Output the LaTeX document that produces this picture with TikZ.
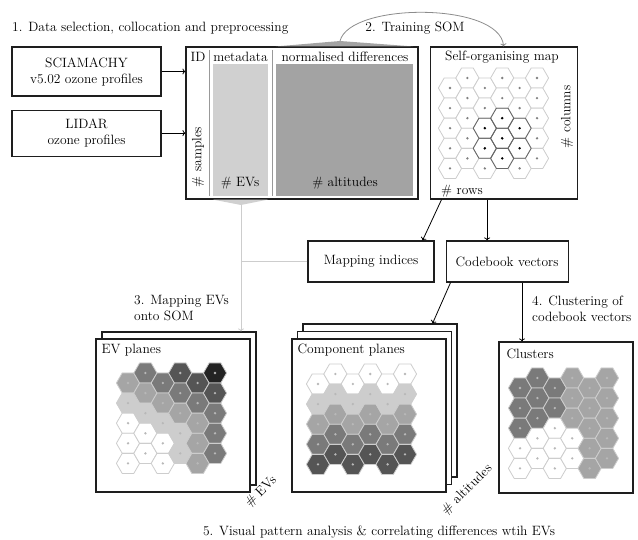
\documentclass[tikz,border=0pt]{standalone}
\usepackage{fontspec}
\usepackage{xcolor}
\usepackage{tikz}
\usetikzlibrary{positioning,arrows.meta,calc}
\definecolor{boxline}{RGB}{30,30,30}
\definecolor{hexline}{RGB}{205,205,205}
\definecolor{shade0}{RGB}{255,255,255}
\definecolor{shade1}{RGB}{205,205,205}
\definecolor{shade2}{RGB}{165,165,165}
\definecolor{shade3}{RGB}{122,122,122}
\definecolor{shade4}{RGB}{85,85,85}
\definecolor{shade5}{RGB}{35,35,35}
\definecolor{lightfill}{RGB}{208,208,208}
\definecolor{darkfill}{RGB}{163,163,163}
\definecolor{flowgray}{RGB}{205,205,205}
\definecolor{arcgray}{RGB}{140,140,140}
\tikzset{
  box/.style={draw=boxline, line width=1.1pt, align=center, inner sep=2pt},
  srcbox/.style={box, minimum width=149pt, minimum height=49pt},
  panel/.style={box, fill=white, minimum width=154pt, minimum height=153pt},
  note/.style={inner sep=0pt},
  hexcell/.style={draw=hexline, line width=0.8pt, line join=round},
  somhl/.style={draw=black!60, line width=0.8pt, line join=round},
  arrow/.style={-{To[length=3pt,width=6pt]}, line width=0.8pt, black},
  grayline/.style={line width=0.8pt, flowgray},
  grayarrow/.style={grayline, -{To[length=3pt,width=6pt]}},
  sepline/.style={line width=0.6pt, black!40}
}
\newcommand{\hexat}[1]{(#1) +(0:11.6) -- +(60:11.6) -- +(120:11.6) -- +(180:11.6)
  -- +(240:11.6) -- +(300:11.6) -- cycle}
\newcommand{\hexmap}[5]{%
  \foreach \cl/\hexcol in {#4} {
    \foreach \sh [count=\rw from 0] in \hexcol {
      \coordinate (#1-\cl-\rw) at ({#2+17.4*\cl},{#3+20.1*\rw+10*mod(\cl+1,2)});
      \filldraw[hexcell, fill=shade\sh] \hexat{#1-\cl-\rw};
      \fill[#5] (#1-\cl-\rw) circle (1.3);
    }
  }%
}

\begin{document}
\begin{tikzpicture}[x=1pt, y=-1pt, font=\fontsize{13.5}{16}\selectfont]
  \useasboundingbox (0,0) rectangle (638,540);

  \node[note, anchor=west] (step1) at (12,28) {1. Data selection, collocation and preprocessing};
  \node[srcbox] (sciam) at (86.5,71.5) {SCIAMACHY\\v5.02 ozone profiles};
  \node[srcbox, minimum height=46pt, below=13pt of sciam] (lidar) {LIDAR\\ozone profiles};

  \node[fill=lightfill, minimum width=55pt, minimum height=132pt] (meta) at (240.5,130) {};
  \node[fill=darkfill, minimum width=137pt, minimum height=132pt] (diffs) at (344.5,130) {};
  \node[box, minimum width=232pt, minimum height=152pt] (data) at (302,123) {};
  \draw[sepline] (209,50) -- (209,196);
  \draw[sepline] (272.5,50) -- (272.5,196);
  \node[note] (idlbl) at (198,57) {ID};
  \node[note] (metalbl) at (240.5,57) {metadata};
  \node[note] (difflbl) at (345,57) {normalised differences};
  \node[note] (evslbl) at (240,183) {\# EVs};
  \node[note] (altlbl) at (345,183) {\# altitudes};
  \node[note, rotate=90] (samples) at (198,157) {\# samples};
  \coordinate (evtip) at (241,205);
  \coordinate (traintip) at (340,41);
  \fill[lightfill] (meta.west |- data.south) -- (evtip) -- (meta.east |- data.south) -- cycle;
  \fill[darkfill] (diffs.west |- data.north) -- (traintip) -- (diffs.east |- data.north) -- cycle;

  \draw[arrow] (sciam.east) -- (sciam.east -| data.west);
  \draw[arrow] (lidar.east) -- (lidar.east -| data.west);

  \node[box, minimum width=147pt, minimum height=152pt, right=11pt of data] (som) {};
  \node[note] (somlbl) at (502,57) {Self-organising map};
  \hexmap{som}{450}{78}{0/{0,0,0,0,0},1/{0,0,0,0,0},2/{0,0,0,0,0},3/{0,0,0,0,0},4/{0,0,0,0,0},5/{0,0,0,0,0}}{black!50}
  \foreach \cl/\rw in {2/2,2/3,3/2,3/3,3/4,4/2,4/3} {
    \draw[somhl] \hexat{som-\cl-\rw};
    \fill[black] (som-\cl-\rw) circle (1.3);
  }
  \node[note, rotate=90] (cols) at (567,117) {\# columns};
  \node[note] (rows) at (462,191) {\# rows};

  \draw[grayarrow, arcgray] (traintip) .. controls (350,2) and (500,2) .. (som.north);
  \node[note] (step2) at (415,28) {2. Training SOM};

  \node[box, minimum width=126pt, minimum height=41pt] (mapping) at (371,261.5) {Mapping indices};
  \node[box, minimum width=122pt, minimum height=41pt, right=11pt of mapping] (codebook) {Codebook vectors};

  \node[panel] (evback) at (179,408.5) {};
  \node[panel] (evplanes) at (173,415.5) {};
  \node[note, anchor=west] (evtitle) at ($(evplanes.north west)+(6,12)$) {EV planes};
  \hexmap{ev}{128}{373}{0/{2,1,0,0,0},1/{3,2,1,0,0},2/{3,2,1,0,0},3/{4,3,2,1,1},4/{4,3,2,2,2},5/{5,4,3,3,3}}{black!28}

  \node[panel] (compback2) at (380,400.5) {};
  \node[panel] (compback1) at (374.5,408) {};
  \node[panel] (comp) at (369,415.5) {};
  \node[note, anchor=west] (comptitle) at ($(comp.north west)+(6,12)$) {Component planes};
  \hexmap{cp}{318}{374}{0/{0,1,2,3,4},1/{0,1,2,3,4},2/{0,1,2,3,4},3/{0,1,2,3,4},4/{0,1,2,3,4},5/{0,1,2,3,4}}{black!28}

  \node[panel, minimum width=134pt, minimum height=151pt] (clusters) at (566,417.5) {};
  \node[note, anchor=west] (cltitle) at ($(clusters.north west)+(8,12)$) {Clusters};
  \hexmap{cl}{520}{378}{0/{3,3,3,0,0},1/{3,3,3,0,0},2/{3,3,0,0,0},3/{2,2,2,0,0},4/{2,2,2,2,2},5/{2,2,2,2,2}}{black!28}

  \draw[arrow] ($(som.south west)+(12,0)$) -- ($(mapping.north east)+(-12,0)$);
  \coordinate (cbin) at ($(codebook.north)+(-20,0)$);
  \draw[arrow] (cbin |- som.south) -- (cbin);
  \draw[arrow] ($(codebook.south west)+(5,0)$) -- ($(compback2.north east)+(-25,0)$);
  \coordinate (clin) at ($(clusters.north)+(-44,0)$);
  \draw[arrow] (clin |- codebook.south) -- (clin);
  \draw[grayline] (mapping.west) -- (mapping.west -| evtip);
  \draw[grayarrow] (evtip) -- (evtip |- evback.north);

  \node[note, align=left, anchor=west] (step3) at (134,308) {3. Mapping EVs\\onto SOM};
  \node[note, align=left, anchor=west] (step4) at (532,309) {4. Clustering of\\codebook vectors};
  \node[note, rotate=45] (nevs) at (261,492) {\# EVs};
  \node[note, rotate=45] (nalt) at (467,490) {\# altitudes};
  \node[note] (step5) at (379,532) {5. Visual pattern analysis \& correlating differences wtih EVs};
\end{tikzpicture}
\end{document}
